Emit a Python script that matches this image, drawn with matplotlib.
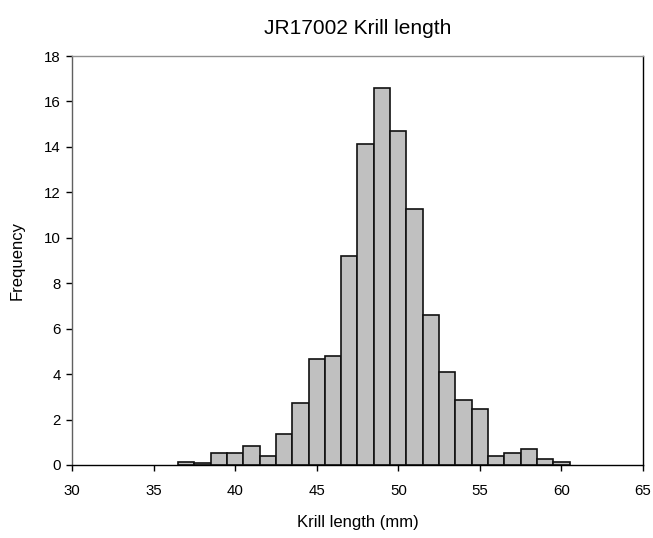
import matplotlib
matplotlib.use("Agg")
import matplotlib.pyplot as plt

# Data
bin_centers = [37, 38, 39, 40, 41, 42, 43, 44, 45, 46, 47, 48, 49, 50,
               51, 52, 53, 54, 55, 56, 57, 58, 59, 60]
frequency = [0.12, 0.1, 0.54, 0.54, 0.82, 0.41, 1.38, 2.75, 4.67, 4.81,
             9.2, 14.14, 16.6, 14.7, 11.25, 6.59, 4.11, 2.87, 2.48, 0.4,
             0.54, 0.69, 0.28, 0.13]
x_ticks = [30, 35, 40, 45, 50, 55, 60, 65]
y_ticks = [0, 2, 4, 6, 8, 10, 12, 14, 16, 18]

plt.rcParams['font.family'] = ['Liberation Sans', 'DejaVu Sans']

fig = plt.figure(figsize=(6.53, 5.38), dpi=100)
ax = fig.add_axes([72/653, 73/538, 571/653, 409/538])

ax.bar(bin_centers, frequency, width=1.0, color='#c0c0c0',
       edgecolor='#111111', linewidth=1.2, zorder=2)

ax.set_xlim(30, 65)
ax.set_ylim(0, 18)
ax.set_xticks(x_ticks)
ax.set_yticks(y_ticks)
ax.tick_params(axis='both', direction='out', length=4, width=1,
               labelsize=10.8, colors='#000000')
ax.tick_params(axis='x', pad=10)
ax.tick_params(axis='y', pad=4)

ax.spines['left'].set_color('#606060')
ax.spines['top'].set_color('#909090')
ax.spines['right'].set_color('#000000')
ax.spines['bottom'].set_color('#000000')
for s in ax.spines.values():
    s.set_linewidth(1)

ax.set_xlabel('Krill length (mm)', fontsize=12, labelpad=12)
ax.set_ylabel('Frequency', fontsize=12, labelpad=14)
ax.set_title('JR17002 Krill length', fontsize=15, pad=16)

fig.savefig('out.png', dpi=100)
